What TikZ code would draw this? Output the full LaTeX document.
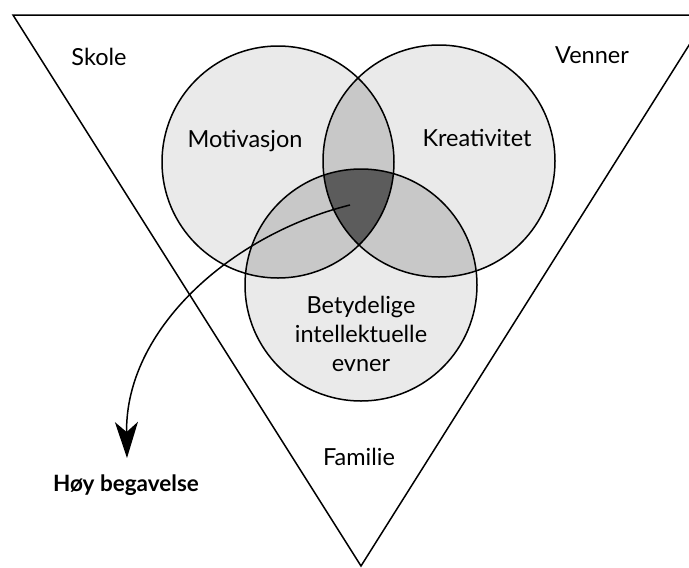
\documentclass[tikz,border=0pt]{standalone}
\usepackage{fontspec}
\setmainfont{Lato}
\usetikzlibrary{arrows.meta}
\definecolor{vennone}{HTML}{EAEAEA}
\definecolor{venntwo}{HTML}{C8C8C8}
\definecolor{vennthree}{HTML}{5C5C5C}
\tikzset{
  lbl/.style={inner sep=0pt, anchor=base, font=\fontsize{23.5}{29}\selectfont},
  outline/.style={draw=black, line width=1.5pt},
}
\begin{document}
\begin{tikzpicture}[x=1pt,y=-1pt]
\useasboundingbox[fill=white] (0,0) rectangle (689,568);
% circle centres
\coordinate (cA) at (278,162);
\coordinate (cB) at (439,161);
\coordinate (cC) at (361,285);
\def\rad{116}
% fills
\fill[vennone] (cA) circle (\rad);
\fill[vennone] (cB) circle (\rad);
\fill[vennone] (cC) circle (\rad);
\begin{scope}\clip (cA) circle (\rad); \fill[venntwo] (cB) circle (\rad); \end{scope}
\begin{scope}\clip (cA) circle (\rad); \fill[venntwo] (cC) circle (\rad); \end{scope}
\begin{scope}\clip (cB) circle (\rad); \fill[venntwo] (cC) circle (\rad); \end{scope}
\begin{scope}\clip (cA) circle (\rad); \clip (cB) circle (\rad); \fill[vennthree] (cC) circle (\rad); \end{scope}
% triangle
\coordinate (tl) at (13,15);
\coordinate (tr) at (708,15);
\coordinate (tb) at (361,566);
\draw[outline, line join=miter] (tl) -- (tr) -- (tb) -- cycle;
% circle outlines
\draw[outline] (cA) circle (\rad);
\draw[outline] (cB) circle (\rad);
\draw[outline] (cC) circle (\rad);
% labels
\node[lbl] (skole) at (99,65) {Skole};
\node[lbl] (venner) at (592,63) {Venner};
\node[lbl] (motiv) at (245,147) {Motivasjon};
\node[lbl] (kreat) at (477,146) {Kreativitet};
\node[lbl, align=center] (evner) at (361,371) {Betydelige\\intellektuelle\\evner};
\node[lbl] (familie) at (359,465) {Familie};
\node[lbl, font=\fontsize{22.5}{27}\selectfont\bfseries] (hoy) at (126,491) {Høy begavelse};
% arrow
\coordinate (start) at (350,205);
\coordinate (tip) at (127,458);
\draw[line width=1.5pt, -{Stealth[length=36pt,width=23pt,inset=10pt]}] (start) .. controls (230,235) and (125,330) .. (tip);
\end{tikzpicture}
\end{document}
